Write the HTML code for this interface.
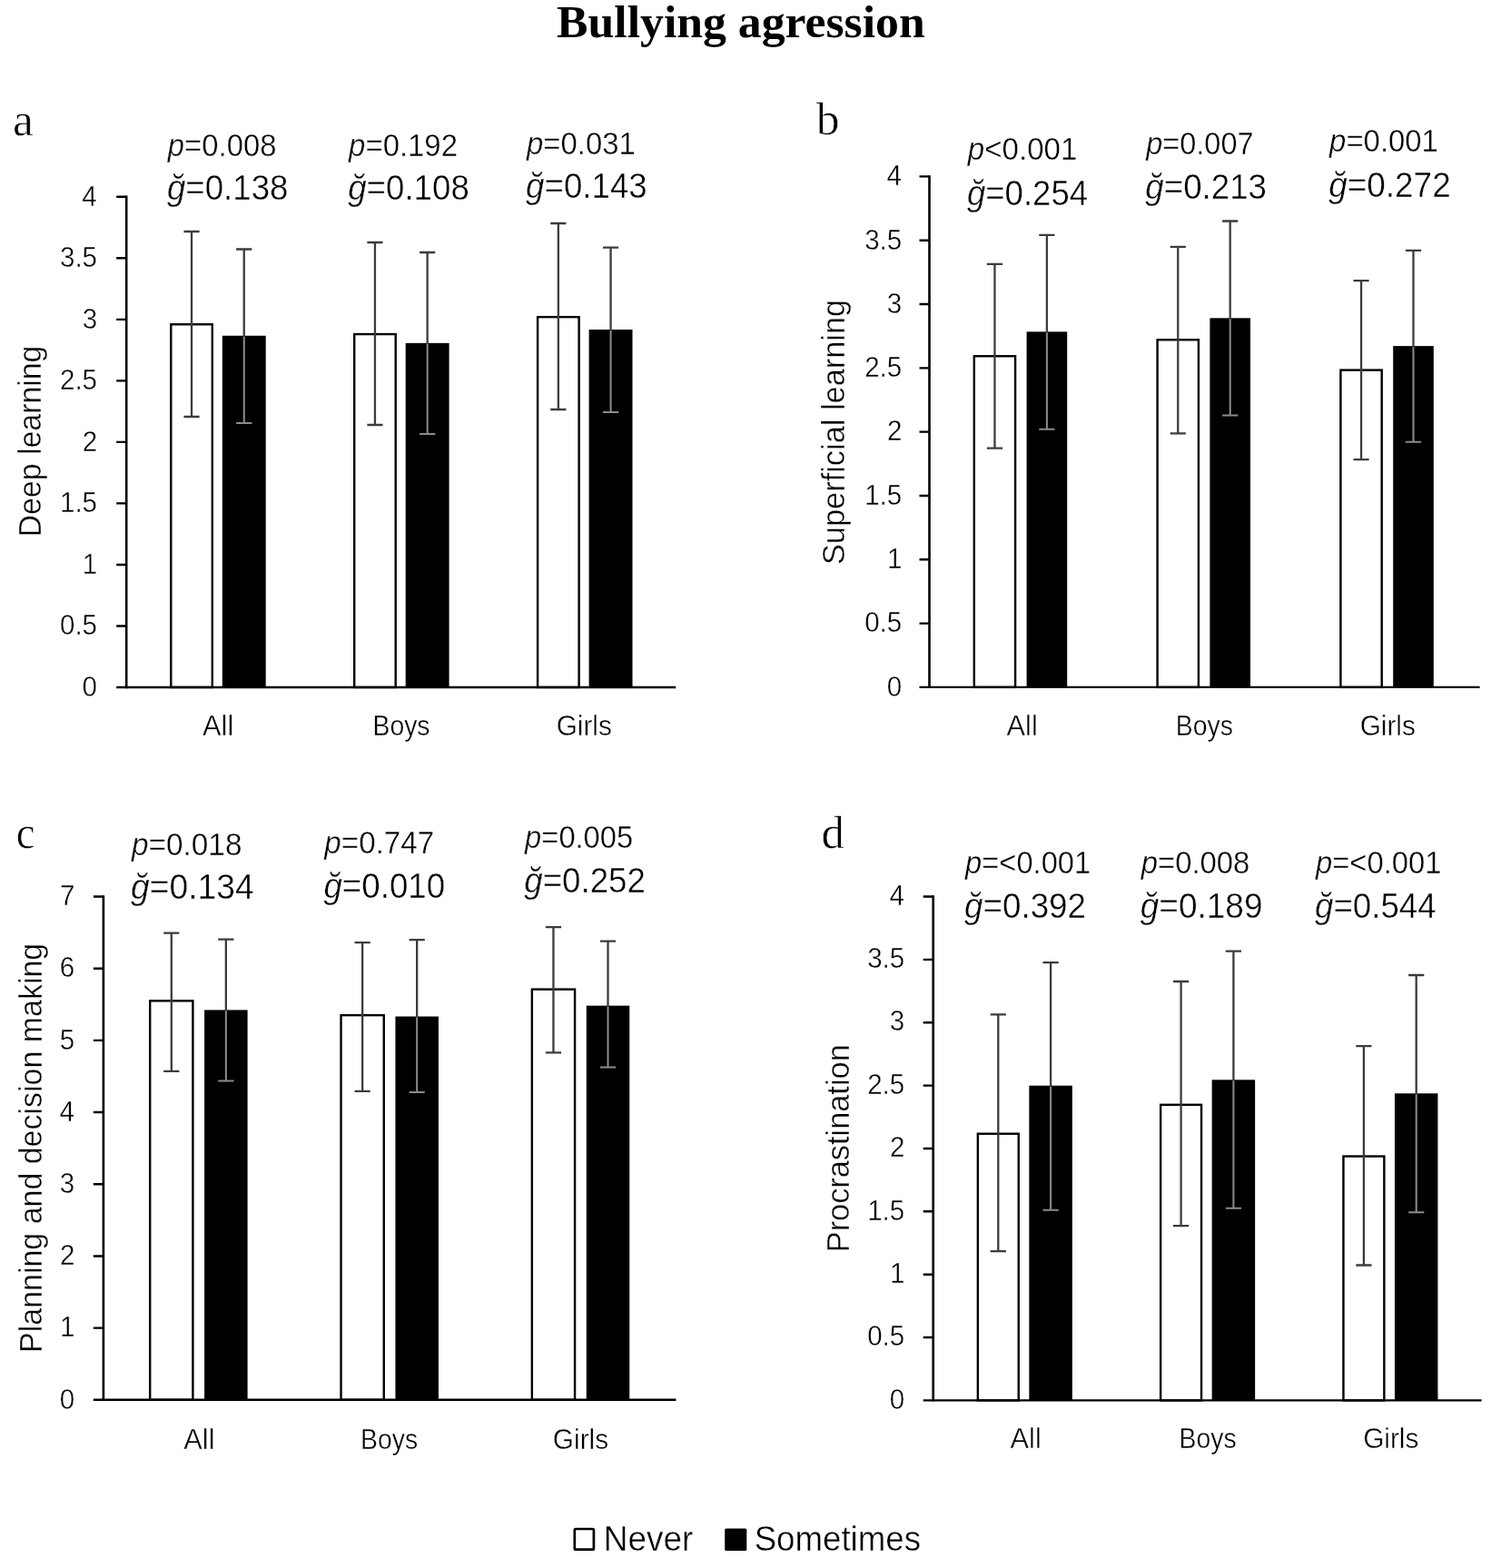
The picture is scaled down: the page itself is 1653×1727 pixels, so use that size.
<!DOCTYPE html>
<html lang="en">
<head>
<meta charset="utf-8">
<title>Bullying agression</title>
<style>
html,body{margin:0;padding:0;background:#fff;}
body{width:1653px;height:1727px;overflow:hidden;}
svg{display:block;}
text{white-space:pre;}
</style>
</head>
<body>
<svg width="1653" height="1727" viewBox="0 0 1653 1727">
<rect width="1653" height="1727" fill="#fff"/>
<text transform="matrix(1.0079 0 0 1 613.1 41.4)" font-family='"Liberation Serif", serif' font-size="51.3" font-weight="bold" fill="#000">Bullying agression</text>
<rect x="188.3" y="357.25" width="45.5" height="399.75" fill="#fff" stroke="#000" stroke-width="2.4"/>
<path d="M202.45 255H219.65M211.05 255V459M202.45 459H219.65" stroke="#3c3c3c" stroke-width="2.3" fill="none"/>
<rect x="244.8" y="369.76" width="47.9" height="387.24" fill="#000"/>
<path d="M260.15 274.5H277.35M268.75 274.5V370.76" stroke="#3c3c3c" stroke-width="2.3" fill="none"/>
<path d="M268.75 370.76V466M260.15 466H277.35" stroke="#8c8c8c" stroke-width="2" fill="none"/>
<text transform="matrix(0.9683 0 0 1 223.07 809.6)" font-family='"Liberation Sans", sans-serif' font-size="31.8" fill="#000" stroke="#fff" stroke-width="0.4">All</text>
<text transform="matrix(0.9149 0 0 1 184.82 171.7)" font-family='"Liberation Sans", sans-serif' font-size="35.9" fill="#000" stroke="#fff" stroke-width="0.4"><tspan font-style="italic">p</tspan>=0.008</text>
<text transform="matrix(0.9629 0 0 1 183.91 219.9)" font-family='"Liberation Sans", sans-serif' font-size="38.1" fill="#000" stroke="#fff" stroke-width="0.4"><tspan font-style="italic">ğ</tspan>=0.138</text>
<rect x="390.2" y="368.06" width="45.5" height="388.94" fill="#fff" stroke="#000" stroke-width="2.4"/>
<path d="M404.35 267H421.55M412.95 267V468M404.35 468H421.55" stroke="#3c3c3c" stroke-width="2.3" fill="none"/>
<rect x="446.7" y="377.86" width="47.9" height="379.14" fill="#000"/>
<path d="M462.05 278H479.25M470.65 278V378.86" stroke="#3c3c3c" stroke-width="2.3" fill="none"/>
<path d="M470.65 378.86V478M462.05 478H479.25" stroke="#8c8c8c" stroke-width="2" fill="none"/>
<text transform="matrix(0.8919 0 0 1 410.51 809.6)" font-family='"Liberation Sans", sans-serif' font-size="31.8" fill="#000" stroke="#fff" stroke-width="0.4">Boys</text>
<text transform="matrix(0.9168 0 0 1 384.12 171.7)" font-family='"Liberation Sans", sans-serif' font-size="35.9" fill="#000" stroke="#fff" stroke-width="0.4"><tspan font-style="italic">p</tspan>=0.192</text>
<text transform="matrix(0.9629 0 0 1 383.21 219.9)" font-family='"Liberation Sans", sans-serif' font-size="38.1" fill="#000" stroke="#fff" stroke-width="0.4"><tspan font-style="italic">ğ</tspan>=0.108</text>
<rect x="592.1" y="349.15" width="45.5" height="407.85" fill="#fff" stroke="#000" stroke-width="2.4"/>
<path d="M606.25 246H623.45M614.85 246V451M606.25 451H623.45" stroke="#3c3c3c" stroke-width="2.3" fill="none"/>
<rect x="648.6" y="363" width="47.9" height="394" fill="#000"/>
<path d="M663.95 272.6H681.15M672.55 272.6V364" stroke="#3c3c3c" stroke-width="2.3" fill="none"/>
<path d="M672.55 364V454M663.95 454H681.15" stroke="#8c8c8c" stroke-width="2" fill="none"/>
<text transform="matrix(0.937 0 0 1 612.66 809.6)" font-family='"Liberation Sans", sans-serif' font-size="31.8" fill="#000" stroke="#fff" stroke-width="0.4">Girls</text>
<text transform="matrix(0.9162 0 0 1 580.02 169.7)" font-family='"Liberation Sans", sans-serif' font-size="35.9" fill="#000" stroke="#fff" stroke-width="0.4"><tspan font-style="italic">p</tspan>=0.031</text>
<text transform="matrix(0.9629 0 0 1 579.11 217.9)" font-family='"Liberation Sans", sans-serif' font-size="38.1" fill="#000" stroke="#fff" stroke-width="0.4"><tspan font-style="italic">ğ</tspan>=0.143</text>
<path d="M139.2 215.6V758.2" stroke="#000" stroke-width="2.6" fill="none"/>
<path d="M128.2 757H744.2" stroke="#000" stroke-width="2.4" fill="none"/>
<text transform="matrix(0.93 0 0 1 90.5 766.8)" font-family='"Liberation Sans", sans-serif' font-size="31.8" fill="#000" stroke="#fff" stroke-width="0.4">0</text>
<text transform="matrix(0.93 0 0 1 65.95 699.28)" font-family='"Liberation Sans", sans-serif' font-size="31.8" fill="#000" stroke="#fff" stroke-width="0.4">0.5</text>
<text transform="matrix(0.93 0 0 1 90.79 631.75)" font-family='"Liberation Sans", sans-serif' font-size="31.8" fill="#000" stroke="#fff" stroke-width="0.4">1</text>
<text transform="matrix(0.93 0 0 1 65.95 564.23)" font-family='"Liberation Sans", sans-serif' font-size="31.8" fill="#000" stroke="#fff" stroke-width="0.4">1.5</text>
<text transform="matrix(0.93 0 0 1 90.87 496.7)" font-family='"Liberation Sans", sans-serif' font-size="31.8" fill="#000" stroke="#fff" stroke-width="0.4">2</text>
<text transform="matrix(0.93 0 0 1 65.95 429.18)" font-family='"Liberation Sans", sans-serif' font-size="31.8" fill="#000" stroke="#fff" stroke-width="0.4">2.5</text>
<text transform="matrix(0.93 0 0 1 90.64 361.65)" font-family='"Liberation Sans", sans-serif' font-size="31.8" fill="#000" stroke="#fff" stroke-width="0.4">3</text>
<text transform="matrix(0.93 0 0 1 65.95 294.12)" font-family='"Liberation Sans", sans-serif' font-size="31.8" fill="#000" stroke="#fff" stroke-width="0.4">3.5</text>
<text transform="matrix(0.93 0 0 1 90.2 226.6)" font-family='"Liberation Sans", sans-serif' font-size="31.8" fill="#000" stroke="#fff" stroke-width="0.4">4</text>
<path d="M128.2 689.48H139.2M128.2 621.95H139.2M128.2 554.42H139.2M128.2 486.9H139.2M128.2 419.38H139.2M128.2 351.85H139.2M128.2 284.32H139.2M128.2 216.8H139.2" stroke="#000" stroke-width="2.4" fill="none"/>
<text transform="translate(45.4 485.8) rotate(-90) scale(0.9823 1) translate(-107.6 0)" font-family='"Liberation Sans", sans-serif' font-size="34.5" fill="#000" stroke="#fff" stroke-width="0.4">Deep learning</text>
<text transform="matrix(1 0 0 1 13.89 148.9)" font-family='"Liberation Serif", serif' font-size="51.6" fill="#000" stroke="#fff" stroke-width="0.6">a</text>
<rect x="1072.8" y="392.26" width="45.3" height="364.64" fill="#fff" stroke="#000" stroke-width="2.4"/>
<path d="M1086.85 290.8H1104.05M1095.45 290.8V493.7M1086.85 493.7H1104.05" stroke="#3c3c3c" stroke-width="2.3" fill="none"/>
<rect x="1130.6" y="365.38" width="44.6" height="391.52" fill="#000"/>
<path d="M1144.3 258.9H1161.5M1152.9 258.9V366.38" stroke="#3c3c3c" stroke-width="2.3" fill="none"/>
<path d="M1152.9 366.38V472.8M1144.3 472.8H1161.5" stroke="#8c8c8c" stroke-width="2" fill="none"/>
<text transform="matrix(0.9683 0 0 1 1108.57 810)" font-family='"Liberation Sans", sans-serif' font-size="31.8" fill="#000" stroke="#fff" stroke-width="0.4">All</text>
<text transform="matrix(0.9223 0 0 1 1065.83 176.4)" font-family='"Liberation Sans", sans-serif' font-size="35.9" fill="#000" stroke="#fff" stroke-width="0.4"><tspan font-style="italic">p</tspan>&lt;0.001</text>
<text transform="matrix(0.9597 0 0 1 1064.91 225.7)" font-family='"Liberation Sans", sans-serif' font-size="38.1" fill="#000" stroke="#fff" stroke-width="0.4"><tspan font-style="italic">ğ</tspan>=0.254</text>
<rect x="1274.6" y="374.26" width="45.3" height="382.64" fill="#fff" stroke="#000" stroke-width="2.4"/>
<path d="M1288.65 271.8H1305.85M1297.25 271.8V477.3M1288.65 477.3H1305.85" stroke="#3c3c3c" stroke-width="2.3" fill="none"/>
<rect x="1332.4" y="350.34" width="44.6" height="406.56" fill="#000"/>
<path d="M1346.1 243.5H1363.3M1354.7 243.5V351.34" stroke="#3c3c3c" stroke-width="2.3" fill="none"/>
<path d="M1354.7 351.34V457.4M1346.1 457.4H1363.3" stroke="#8c8c8c" stroke-width="2" fill="none"/>
<text transform="matrix(0.8919 0 0 1 1294.81 810)" font-family='"Liberation Sans", sans-serif' font-size="31.8" fill="#000" stroke="#fff" stroke-width="0.4">Boys</text>
<text transform="matrix(0.9052 0 0 1 1262.21 170.4)" font-family='"Liberation Sans", sans-serif' font-size="35.9" fill="#000" stroke="#fff" stroke-width="0.4"><tspan font-style="italic">p</tspan>=0.007</text>
<text transform="matrix(0.9637 0 0 1 1261.31 219.2)" font-family='"Liberation Sans", sans-serif' font-size="38.1" fill="#000" stroke="#fff" stroke-width="0.4"><tspan font-style="italic">ğ</tspan>=0.213</text>
<rect x="1476.4" y="407.59" width="45.3" height="349.31" fill="#fff" stroke="#000" stroke-width="2.4"/>
<path d="M1490.45 309.2H1507.65M1499.05 309.2V506.2M1490.45 506.2H1507.65" stroke="#3c3c3c" stroke-width="2.3" fill="none"/>
<rect x="1534.2" y="381.13" width="44.6" height="375.77" fill="#000"/>
<path d="M1547.9 275.8H1565.1M1556.5 275.8V382.13" stroke="#3c3c3c" stroke-width="2.3" fill="none"/>
<path d="M1556.5 382.13V486.8M1547.9 486.8H1565.1" stroke="#8c8c8c" stroke-width="2" fill="none"/>
<text transform="matrix(0.937 0 0 1 1497.66 810)" font-family='"Liberation Sans", sans-serif' font-size="31.8" fill="#000" stroke="#fff" stroke-width="0.4">Girls</text>
<text transform="matrix(0.9162 0 0 1 1464.12 166.9)" font-family='"Liberation Sans", sans-serif' font-size="35.9" fill="#000" stroke="#fff" stroke-width="0.4"><tspan font-style="italic">p</tspan>=0.001</text>
<text transform="matrix(0.9693 0 0 1 1463.21 216.8)" font-family='"Liberation Sans", sans-serif' font-size="38.1" fill="#000" stroke="#fff" stroke-width="0.4"><tspan font-style="italic">ğ</tspan>=0.272</text>
<path d="M1023.5 193.2V758.1" stroke="#000" stroke-width="2.6" fill="none"/>
<path d="M1012.5 756.9H1629.6" stroke="#000" stroke-width="2.4" fill="none"/>
<text transform="matrix(0.93 0 0 1 976.7 766.7)" font-family='"Liberation Sans", sans-serif' font-size="31.8" fill="#000" stroke="#fff" stroke-width="0.4">0</text>
<text transform="matrix(0.93 0 0 1 952.15 696.39)" font-family='"Liberation Sans", sans-serif' font-size="31.8" fill="#000" stroke="#fff" stroke-width="0.4">0.5</text>
<text transform="matrix(0.93 0 0 1 976.99 626.08)" font-family='"Liberation Sans", sans-serif' font-size="31.8" fill="#000" stroke="#fff" stroke-width="0.4">1</text>
<text transform="matrix(0.93 0 0 1 952.15 555.76)" font-family='"Liberation Sans", sans-serif' font-size="31.8" fill="#000" stroke="#fff" stroke-width="0.4">1.5</text>
<text transform="matrix(0.93 0 0 1 977.07 485.45)" font-family='"Liberation Sans", sans-serif' font-size="31.8" fill="#000" stroke="#fff" stroke-width="0.4">2</text>
<text transform="matrix(0.93 0 0 1 952.15 415.14)" font-family='"Liberation Sans", sans-serif' font-size="31.8" fill="#000" stroke="#fff" stroke-width="0.4">2.5</text>
<text transform="matrix(0.93 0 0 1 976.84 344.82)" font-family='"Liberation Sans", sans-serif' font-size="31.8" fill="#000" stroke="#fff" stroke-width="0.4">3</text>
<text transform="matrix(0.93 0 0 1 952.15 274.51)" font-family='"Liberation Sans", sans-serif' font-size="31.8" fill="#000" stroke="#fff" stroke-width="0.4">3.5</text>
<text transform="matrix(0.93 0 0 1 976.4 204.2)" font-family='"Liberation Sans", sans-serif' font-size="31.8" fill="#000" stroke="#fff" stroke-width="0.4">4</text>
<path d="M1012.5 686.59H1023.5M1012.5 616.27H1023.5M1012.5 545.96H1023.5M1012.5 475.65H1023.5M1012.5 405.34H1023.5M1012.5 335.02H1023.5M1012.5 264.71H1023.5M1012.5 194.4H1023.5" stroke="#000" stroke-width="2.4" fill="none"/>
<text transform="translate(930.1 476.3) rotate(-90) scale(0.9967 1) translate(-146.24 0)" font-family='"Liberation Sans", sans-serif' font-size="34.5" fill="#000" stroke="#fff" stroke-width="0.4">Superficial learning</text>
<text transform="matrix(1 0 0 1 898.7 147.7)" font-family='"Liberation Serif", serif' font-size="51.6" fill="#000" stroke="#fff" stroke-width="0.6">b</text>
<rect x="165.2" y="1102.32" width="47.2" height="439.48" fill="#fff" stroke="#000" stroke-width="2.4"/>
<path d="M180.2 1027.7H197.4M188.8 1027.7V1179.8M180.2 1179.8H197.4" stroke="#3c3c3c" stroke-width="2.3" fill="none"/>
<rect x="225.1" y="1112.41" width="47.5" height="429.39" fill="#000"/>
<path d="M240.25 1034.7H257.45M248.85 1034.7V1113.41" stroke="#3c3c3c" stroke-width="2.3" fill="none"/>
<path d="M248.85 1113.41V1190.4M240.25 1190.4H257.45" stroke="#8c8c8c" stroke-width="2" fill="none"/>
<text transform="matrix(0.9683 0 0 1 202.27 1595.9)" font-family='"Liberation Sans", sans-serif' font-size="31.8" fill="#000" stroke="#fff" stroke-width="0.4">All</text>
<text transform="matrix(0.9288 0 0 1 145.03 941.9)" font-family='"Liberation Sans", sans-serif' font-size="35.9" fill="#000" stroke="#fff" stroke-width="0.4"><tspan font-style="italic">p</tspan>=0.018</text>
<text transform="matrix(0.9778 0 0 1 144.11 990)" font-family='"Liberation Sans", sans-serif' font-size="38.1" fill="#000" stroke="#fff" stroke-width="0.4"><tspan font-style="italic">ğ</tspan>=0.134</text>
<rect x="375.53" y="1118.16" width="47.2" height="423.64" fill="#fff" stroke="#000" stroke-width="2.4"/>
<path d="M390.53 1038.2H407.73M399.13 1038.2V1201.9M390.53 1201.9H407.73" stroke="#3c3c3c" stroke-width="2.3" fill="none"/>
<rect x="435.43" y="1119.53" width="47.5" height="422.27" fill="#000"/>
<path d="M450.58 1035.2H467.78M459.18 1035.2V1120.53" stroke="#3c3c3c" stroke-width="2.3" fill="none"/>
<path d="M459.18 1120.53V1202.9M450.58 1202.9H467.78" stroke="#8c8c8c" stroke-width="2" fill="none"/>
<text transform="matrix(0.8919 0 0 1 397.11 1595.9)" font-family='"Liberation Sans", sans-serif' font-size="31.8" fill="#000" stroke="#fff" stroke-width="0.4">Boys</text>
<text transform="matrix(0.9245 0 0 1 357.33 940.4)" font-family='"Liberation Sans", sans-serif' font-size="35.9" fill="#000" stroke="#fff" stroke-width="0.4"><tspan font-style="italic">p</tspan>=0.747</text>
<text transform="matrix(0.9645 0 0 1 356.41 988.7)" font-family='"Liberation Sans", sans-serif' font-size="38.1" fill="#000" stroke="#fff" stroke-width="0.4"><tspan font-style="italic">ğ</tspan>=0.010</text>
<rect x="585.86" y="1089.65" width="47.2" height="452.15" fill="#fff" stroke="#000" stroke-width="2.4"/>
<path d="M600.86 1021.2H618.06M609.46 1021.2V1159.3M600.86 1159.3H618.06" stroke="#3c3c3c" stroke-width="2.3" fill="none"/>
<rect x="645.76" y="1107.65" width="47.5" height="434.15" fill="#000"/>
<path d="M660.91 1036.7H678.11M669.51 1036.7V1108.65" stroke="#3c3c3c" stroke-width="2.3" fill="none"/>
<path d="M669.51 1108.65V1175.6M660.91 1175.6H678.11" stroke="#8c8c8c" stroke-width="2" fill="none"/>
<text transform="matrix(0.937 0 0 1 608.86 1595.9)" font-family='"Liberation Sans", sans-serif' font-size="31.8" fill="#000" stroke="#fff" stroke-width="0.4">Girls</text>
<text transform="matrix(0.9104 0 0 1 578.12 933.9)" font-family='"Liberation Sans", sans-serif' font-size="35.9" fill="#000" stroke="#fff" stroke-width="0.4"><tspan font-style="italic">p</tspan>=0.005</text>
<text transform="matrix(0.9635 0 0 1 577.21 983.2)" font-family='"Liberation Sans", sans-serif' font-size="38.1" fill="#000" stroke="#fff" stroke-width="0.4"><tspan font-style="italic">ğ</tspan>=0.252</text>
<path d="M113.9 986.3V1543" stroke="#000" stroke-width="2.6" fill="none"/>
<path d="M102.9 1541.8H744.5" stroke="#000" stroke-width="2.4" fill="none"/>
<text transform="matrix(0.93 0 0 1 65.7 1551.6)" font-family='"Liberation Sans", sans-serif' font-size="31.8" fill="#000" stroke="#fff" stroke-width="0.4">0</text>
<text transform="matrix(0.93 0 0 1 65.99 1472.41)" font-family='"Liberation Sans", sans-serif' font-size="31.8" fill="#000" stroke="#fff" stroke-width="0.4">1</text>
<text transform="matrix(0.93 0 0 1 66.07 1393.23)" font-family='"Liberation Sans", sans-serif' font-size="31.8" fill="#000" stroke="#fff" stroke-width="0.4">2</text>
<text transform="matrix(0.93 0 0 1 65.84 1314.04)" font-family='"Liberation Sans", sans-serif' font-size="31.8" fill="#000" stroke="#fff" stroke-width="0.4">3</text>
<text transform="matrix(0.93 0 0 1 65.4 1234.86)" font-family='"Liberation Sans", sans-serif' font-size="31.8" fill="#000" stroke="#fff" stroke-width="0.4">4</text>
<text transform="matrix(0.93 0 0 1 65.77 1155.67)" font-family='"Liberation Sans", sans-serif' font-size="31.8" fill="#000" stroke="#fff" stroke-width="0.4">5</text>
<text transform="matrix(0.93 0 0 1 65.84 1076.49)" font-family='"Liberation Sans", sans-serif' font-size="31.8" fill="#000" stroke="#fff" stroke-width="0.4">6</text>
<text transform="matrix(0.93 0 0 1 66.07 997.3)" font-family='"Liberation Sans", sans-serif' font-size="31.8" fill="#000" stroke="#fff" stroke-width="0.4">7</text>
<path d="M102.9 1462.61H113.9M102.9 1383.43H113.9M102.9 1304.24H113.9M102.9 1225.06H113.9M102.9 1145.87H113.9M102.9 1066.69H113.9M102.9 987.5H113.9" stroke="#000" stroke-width="2.4" fill="none"/>
<text transform="translate(45.8 1264.2) rotate(-90) scale(0.9847 1) translate(-229.25 0)" font-family='"Liberation Sans", sans-serif' font-size="34.5" fill="#000" stroke="#fff" stroke-width="0.4">Planning and decision making</text>
<text transform="matrix(0.93 0 0 1 17.84 933.7)" font-family='"Liberation Serif", serif' font-size="50.6" fill="#000" stroke="#fff" stroke-width="0.6">c</text>
<rect x="1076.85" y="1248.72" width="44.9" height="293.68" fill="#fff" stroke="#000" stroke-width="2.4"/>
<path d="M1090.7 1117.4H1107.9M1099.3 1117.4V1378.1M1090.7 1378.1H1107.9" stroke="#3c3c3c" stroke-width="2.3" fill="none"/>
<rect x="1133.35" y="1195.7" width="47.5" height="346.7" fill="#000"/>
<path d="M1148.5 1060.1H1165.7M1157.1 1060.1V1196.7" stroke="#3c3c3c" stroke-width="2.3" fill="none"/>
<path d="M1157.1 1196.7V1332.8M1148.5 1332.8H1165.7" stroke="#8c8c8c" stroke-width="2" fill="none"/>
<text transform="matrix(0.9683 0 0 1 1112.57 1595.3)" font-family='"Liberation Sans", sans-serif' font-size="31.8" fill="#000" stroke="#fff" stroke-width="0.4">All</text>
<text transform="matrix(0.9113 0 0 1 1063.02 961.7)" font-family='"Liberation Sans", sans-serif' font-size="35.9" fill="#000" stroke="#fff" stroke-width="0.4"><tspan font-style="italic">p</tspan>=&lt;0.001</text>
<text transform="matrix(0.9649 0 0 1 1062.11 1010.6)" font-family='"Liberation Sans", sans-serif' font-size="38.1" fill="#000" stroke="#fff" stroke-width="0.4"><tspan font-style="italic">ğ</tspan>=0.392</text>
<rect x="1278.15" y="1216.81" width="44.9" height="325.59" fill="#fff" stroke="#000" stroke-width="2.4"/>
<path d="M1292 1081H1309.2M1300.6 1081V1350.2M1292 1350.2H1309.2" stroke="#3c3c3c" stroke-width="2.3" fill="none"/>
<rect x="1334.65" y="1189.32" width="47.5" height="353.08" fill="#000"/>
<path d="M1349.8 1047.7H1367M1358.4 1047.7V1190.32" stroke="#3c3c3c" stroke-width="2.3" fill="none"/>
<path d="M1358.4 1190.32V1330.8M1349.8 1330.8H1367" stroke="#8c8c8c" stroke-width="2" fill="none"/>
<text transform="matrix(0.8919 0 0 1 1298.61 1595.3)" font-family='"Liberation Sans", sans-serif' font-size="31.8" fill="#000" stroke="#fff" stroke-width="0.4">Boys</text>
<text transform="matrix(0.9149 0 0 1 1256.72 961.7)" font-family='"Liberation Sans", sans-serif' font-size="35.9" fill="#000" stroke="#fff" stroke-width="0.4"><tspan font-style="italic">p</tspan>=0.008</text>
<text transform="matrix(0.9709 0 0 1 1255.81 1010.6)" font-family='"Liberation Sans", sans-serif' font-size="38.1" fill="#000" stroke="#fff" stroke-width="0.4"><tspan font-style="italic">ğ</tspan>=0.189</text>
<rect x="1479.45" y="1273.55" width="44.9" height="268.85" fill="#fff" stroke="#000" stroke-width="2.4"/>
<path d="M1493.3 1152.2H1510.5M1501.9 1152.2V1393.5M1493.3 1393.5H1510.5" stroke="#3c3c3c" stroke-width="2.3" fill="none"/>
<rect x="1535.95" y="1204.3" width="47.5" height="338.1" fill="#000"/>
<path d="M1551.1 1074H1568.3M1559.7 1074V1205.3" stroke="#3c3c3c" stroke-width="2.3" fill="none"/>
<path d="M1559.7 1205.3V1335.3M1551.1 1335.3H1568.3" stroke="#8c8c8c" stroke-width="2" fill="none"/>
<text transform="matrix(0.937 0 0 1 1501.16 1595.3)" font-family='"Liberation Sans", sans-serif' font-size="31.8" fill="#000" stroke="#fff" stroke-width="0.4">Girls</text>
<text transform="matrix(0.9139 0 0 1 1448.92 961.7)" font-family='"Liberation Sans", sans-serif' font-size="35.9" fill="#000" stroke="#fff" stroke-width="0.4"><tspan font-style="italic">p</tspan>=&lt;0.001</text>
<text transform="matrix(0.9633 0 0 1 1448.01 1010.6)" font-family='"Liberation Sans", sans-serif' font-size="38.1" fill="#000" stroke="#fff" stroke-width="0.4"><tspan font-style="italic">ğ</tspan>=0.544</text>
<path d="M1027.7 986.3V1543.6" stroke="#000" stroke-width="2.6" fill="none"/>
<path d="M1016.7 1542.4H1631.6" stroke="#000" stroke-width="2.4" fill="none"/>
<text transform="matrix(0.93 0 0 1 979.7 1551.6)" font-family='"Liberation Sans", sans-serif' font-size="31.8" fill="#000" stroke="#fff" stroke-width="0.4">0</text>
<text transform="matrix(0.93 0 0 1 955.15 1482.24)" font-family='"Liberation Sans", sans-serif' font-size="31.8" fill="#000" stroke="#fff" stroke-width="0.4">0.5</text>
<text transform="matrix(0.93 0 0 1 979.99 1412.88)" font-family='"Liberation Sans", sans-serif' font-size="31.8" fill="#000" stroke="#fff" stroke-width="0.4">1</text>
<text transform="matrix(0.93 0 0 1 955.15 1343.51)" font-family='"Liberation Sans", sans-serif' font-size="31.8" fill="#000" stroke="#fff" stroke-width="0.4">1.5</text>
<text transform="matrix(0.93 0 0 1 980.07 1274.15)" font-family='"Liberation Sans", sans-serif' font-size="31.8" fill="#000" stroke="#fff" stroke-width="0.4">2</text>
<text transform="matrix(0.93 0 0 1 955.15 1204.79)" font-family='"Liberation Sans", sans-serif' font-size="31.8" fill="#000" stroke="#fff" stroke-width="0.4">2.5</text>
<text transform="matrix(0.93 0 0 1 979.84 1135.42)" font-family='"Liberation Sans", sans-serif' font-size="31.8" fill="#000" stroke="#fff" stroke-width="0.4">3</text>
<text transform="matrix(0.93 0 0 1 955.15 1066.06)" font-family='"Liberation Sans", sans-serif' font-size="31.8" fill="#000" stroke="#fff" stroke-width="0.4">3.5</text>
<text transform="matrix(0.93 0 0 1 979.4 996.7)" font-family='"Liberation Sans", sans-serif' font-size="31.8" fill="#000" stroke="#fff" stroke-width="0.4">4</text>
<path d="M1016.7 1473.04H1027.7M1016.7 1403.68H1027.7M1016.7 1334.31H1027.7M1016.7 1264.95H1027.7M1016.7 1195.59H1027.7M1016.7 1126.22H1027.7M1016.7 1056.86H1027.7M1016.7 987.5H1027.7" stroke="#000" stroke-width="2.4" fill="none"/>
<text transform="translate(934.6 1264.5) rotate(-90) scale(0.9953 1) translate(-115.27 0)" font-family='"Liberation Sans", sans-serif' font-size="34.5" fill="#000" stroke="#fff" stroke-width="0.4">Procrastination</text>
<text transform="matrix(1 0 0 1 904.53 933.8)" font-family='"Liberation Serif", serif' font-size="50.6" fill="#000" stroke="#fff" stroke-width="0.6">d</text>
<rect x="632.8" y="1684" width="21.1" height="22.6" rx="1.2" fill="#fff" stroke="#000" stroke-width="2.7"/>
<text transform="matrix(0.9727 0 0 1 664.75 1708.3)" font-family='"Liberation Sans", sans-serif' font-size="38" fill="#000" stroke="#fff" stroke-width="0.4">Never</text>
<rect x="798.2" y="1683.5" width="24.1" height="24.5" rx="1.5" fill="#000"/>
<text transform="matrix(0.9654 0 0 1 830.65 1708.3)" font-family='"Liberation Sans", sans-serif' font-size="38" fill="#000" stroke="#fff" stroke-width="0.4">Sometimes</text>
</svg>
</body>
</html>
